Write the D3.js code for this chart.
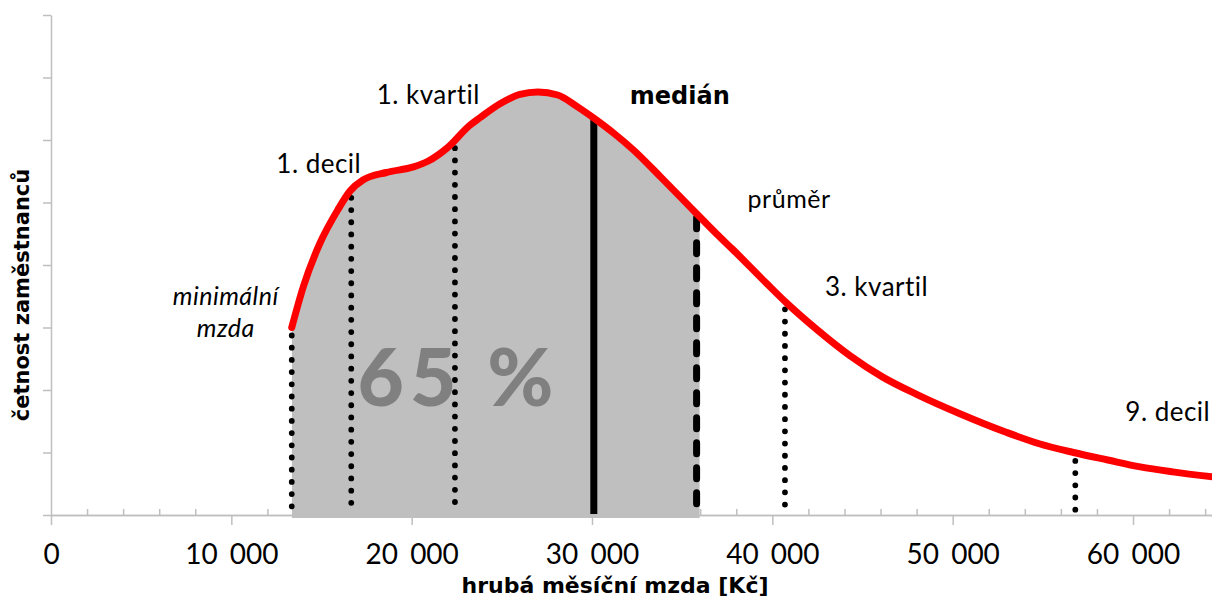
<!DOCTYPE html>
<html>
<head>
<meta charset="utf-8">
<script src="https://cdn.jsdelivr.net/npm/d3@7"></script>
<style>
  html, body { margin: 0; padding: 0; background: #fff; }
  svg { display: block; font-family: Lato, "Open Sans", sans-serif; }
</style>
</head>
<body>
<svg id="chart" width="1212" height="599"></svg>
<script>
// ---- data ----
const wages = [13350, 14000, 14900, 15900, 16600, 17300, 18600, 20100, 20900, 22000, 23200, 23800, 24900, 26000, 27000, 28100, 29200, 30100, 31200, 32300, 33800, 35600, 36900, 37800, 39700, 40800, 42500, 44300, 46100, 48000, 50400, 53000, 54800, 56700, 58600, 60400, 62200, 64400];
const frequency = [3.0, 3.66, 4.34, 4.88, 5.19, 5.36, 5.48, 5.57, 5.66, 5.88, 6.23, 6.36, 6.58, 6.73, 6.77, 6.72, 6.53, 6.35, 6.11, 5.84, 5.41, 4.88, 4.50, 4.25, 3.70, 3.39, 2.96, 2.55, 2.21, 1.93, 1.62, 1.32, 1.14, 1.00, 0.88, 0.77, 0.69, 0.61];

const statNames  = ["minimální mzda", "1. decil", "1. kvartil", "medián", "průměr", "3. kvartil", "9. decil"];
const statValues = [13350, 16650, 22400, 30100, 35800, 40700, 56800];
const statStyles = ["dotted", "dotted", "dotted", "solid", "dashed", "dotted", "dotted"];

const xTickValues = [0, 10000, 20000, 30000, 40000, 50000, 60000];
const xTickLabels = ["0", "10 000", "20 000", "30 000", "40 000", "50 000", "60 000"];
const yTickValues = [0, 1, 2, 3, 4, 5, 6, 7, 8];
const shareLabel = "65 %";
const xTitle = "hrubá měsíční mzda [Kč]";
const yTitle = "četnost zaměstnanců";

// ---- setup ----
const svg = d3.select("#chart");
const x = d3.scaleLinear().domain([0, 64380]).range([51, 1212]);
const y = d3.scaleLinear().domain([0, 8]).range([515, 15]);
const curveAt = d3.scaleLinear().domain(wages).range(frequency).clamp(true);
const pts = wages.map((w, i) => [w, frequency[i]]);
const AXIS = "#bfbfbf";
const BOLD = "'DejaVu Sans', Lato, sans-serif";

// shaded area (min wage .. average)
const clipLeft = x(statValues[0]), clipRight = x(statValues[4]) + 3;
svg.append("clipPath").attr("id", "shade")
  .append("rect").attr("x", clipLeft).attr("y", 0)
  .attr("width", clipRight - clipLeft).attr("height", y(0) + 3);
svg.append("path")
  .datum(pts)
  .attr("clip-path", "url(#shade)")
  .attr("fill", "#bfbfbf")
  .attr("d", d3.area().x(d => x(d[0])).y0(y(0) + 3).y1(d => y(d[1])).curve(d3.curveMonotoneX));

// axes
const yAxis = svg.append("g").attr("transform", `translate(${x(0)},0)`)
  .call(d3.axisLeft(y).tickValues(yTickValues).tickSize(8).tickSizeOuter(0).tickFormat(""));
yAxis.selectAll("line, path").attr("stroke", AXIS).attr("stroke-width", 1.5);

const minor = d3.range(2000, 64380, 2000).filter(v => v % 10000 !== 0);
const xMinor = svg.append("g").attr("transform", `translate(0,${y(0)})`)
  .call(d3.axisBottom(x).tickValues(minor).tickSize(-6).tickSizeOuter(0).tickFormat(""));
xMinor.selectAll("line, path").attr("stroke", AXIS).attr("stroke-width", 1.5);

const xAxis = svg.append("g").attr("transform", `translate(0,${y(0)})`)
  .call(d3.axisBottom(x).tickValues(xTickValues).tickSize(10).tickSizeOuter(0)
        .tickFormat((d, i) => xTickLabels[i]));
xAxis.selectAll("line, path").attr("stroke", AXIS).attr("stroke-width", 1.5);
xAxis.selectAll("text")
  .attr("y", 49).attr("dy", 0)
  .attr("fill", "#000").attr("font-size", 28)
  .style("word-spacing", "5px")
  .style("font-family", "Lato, sans-serif");

// big share label
svg.append("text")
  .attr("x", x(22600)).attr("y", 406)
  .attr("text-anchor", "middle")
  .attr("font-size", 80).attr("font-weight", 900)
  .attr("letter-spacing", 6)
  .attr("fill", "#808080")
  .text(shareLabel);

// stat vertical lines (drawn from the curve down to the axis)
statValues.forEach((v, i) => {
  const style = statStyles[i];
  const top = y(curveAt(v)) + (style === "dotted" ? 8 : style === "dashed" ? 4 : 0);
  const line = svg.append("line")
    .attr("x1", x(v)).attr("x2", x(v))
    .attr("y1", top).attr("y2", y(0) - 1)
    .attr("stroke", "#000");
  if (style === "dotted") {
    line.attr("stroke-width", 5.8).attr("stroke-linecap", "round").attr("stroke-dasharray", "0 12.2");
  } else if (style === "dashed") {
    line.attr("stroke-width", 7).attr("stroke-linecap", "round").attr("stroke-dasharray", "11 14");
  } else {
    line.attr("stroke-width", 7);
  }
});

// red distribution curve
svg.append("path")
  .datum(pts)
  .attr("fill", "none")
  .attr("stroke", "#ff0000")
  .attr("stroke-width", 7)
  .attr("stroke-linejoin", "round")
  .attr("stroke-linecap", "round")
  .attr("d", d3.line().x(d => x(d[0])).y(d => y(d[1])).curve(d3.curveMonotoneX));

// annotation labels
const lab = (t, px, py, opts = {}) => svg.append("text")
  .attr("x", px).attr("y", py)
  .attr("text-anchor", opts.anchor || "start")
  .attr("font-size", opts.size || 26)
  .attr("font-weight", opts.weight || 400)
  .attr("font-style", opts.italic ? "italic" : "normal")
  .attr("letter-spacing", opts.ls === undefined ? 0.5 : opts.ls)
  .style("font-family", opts.family || "Lato, sans-serif")
  .attr("fill", "#000")
  .text(t);

const [minLine1, minLine2] = statNames[0].split(" ");
lab(minLine1, x(statValues[0]) - 66, 305, { anchor: "middle", italic: true, size: 25 });
lab(minLine2, x(statValues[0]) - 66, 337, { anchor: "middle", italic: true, size: 25 });
lab(statNames[1], x(statValues[1]) + 10, 173, { anchor: "end" });
lab(statNames[2], x(statValues[2]) + 25, 104, { anchor: "end" });
lab(statNames[3], x(statValues[3]) + 36, 104, { weight: 700, size: 24, family: BOLD, ls: 0 });
lab(statNames[4], x(statValues[4]) + 51, 208, { size: 25 });
lab(statNames[5], x(statValues[5]) + 40, 296);
lab(statNames[6], x(statValues[6]) + 50, 421);

// axis titles
svg.append("text")
  .attr("x", 615).attr("y", 593)
  .attr("text-anchor", "middle")
  .attr("font-size", 22).attr("font-weight", 700)
  .style("font-family", BOLD)
  .text(xTitle);
svg.append("text")
  .attr("transform", "translate(29,295) rotate(-90)")
  .attr("text-anchor", "middle")
  .attr("font-size", 21).attr("font-weight", 700)
  .style("font-family", BOLD)
  .text(yTitle);
</script>
</body>
</html>
